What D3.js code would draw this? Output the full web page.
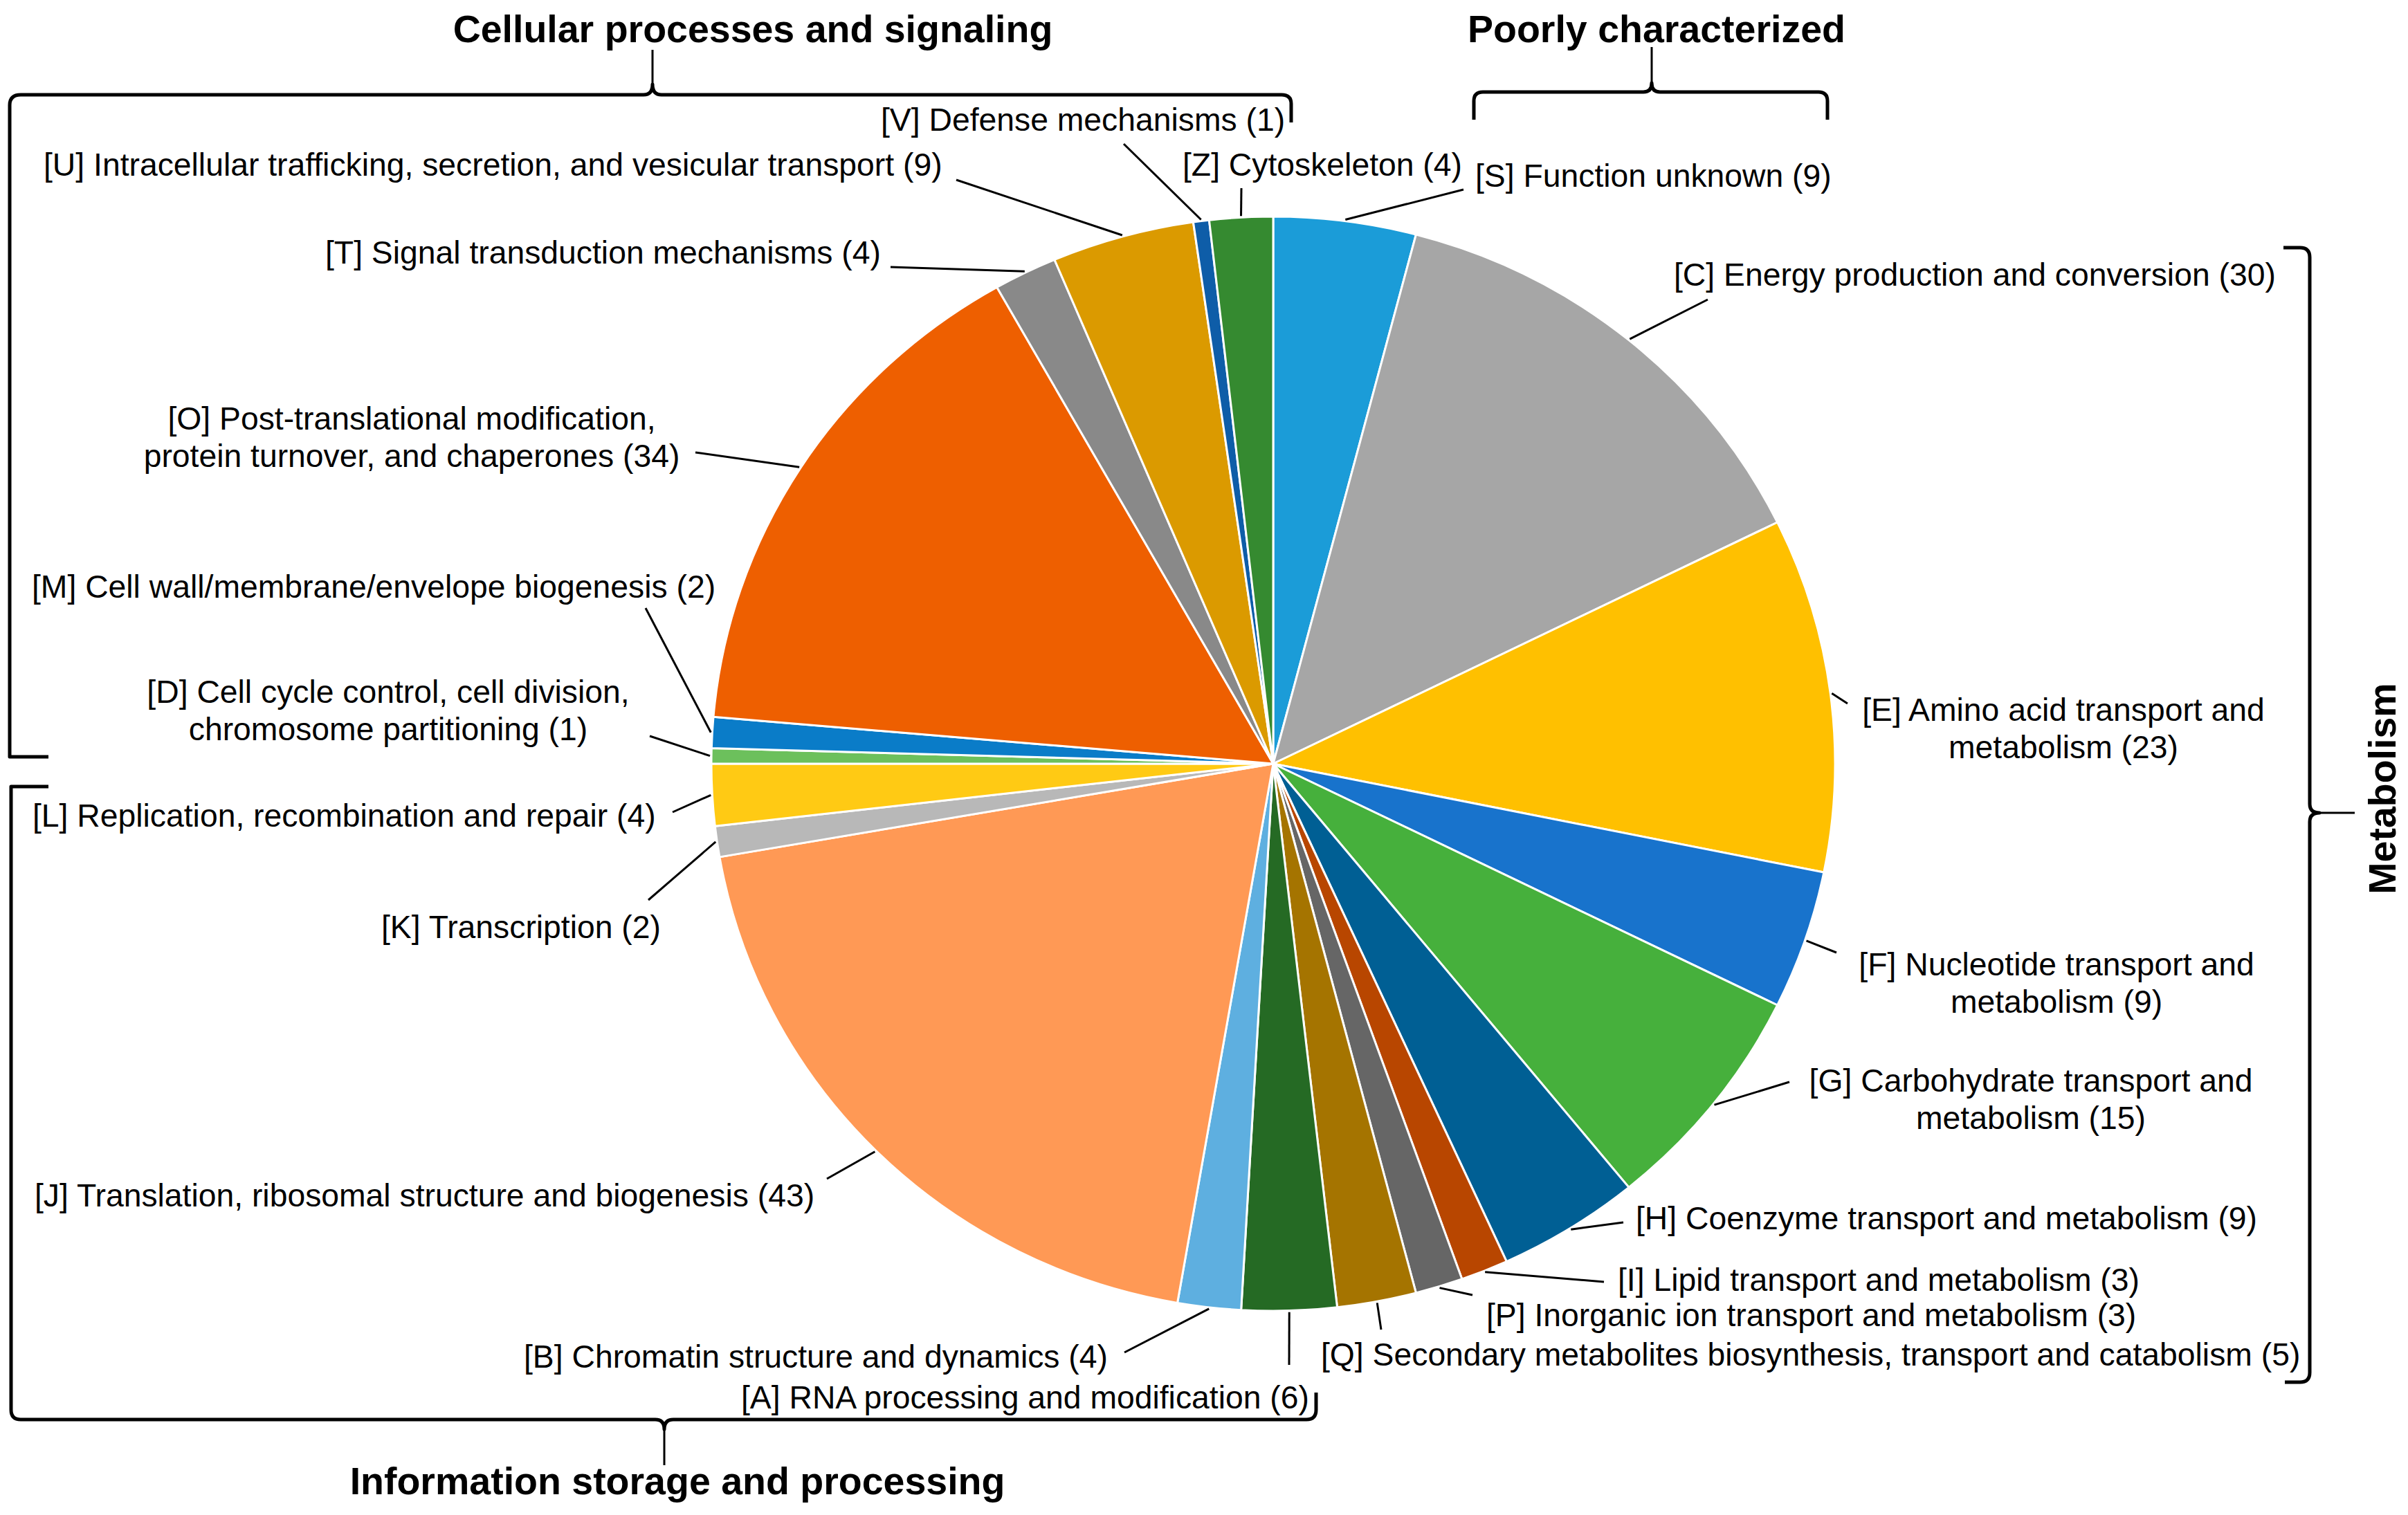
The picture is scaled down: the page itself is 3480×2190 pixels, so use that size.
<!DOCTYPE html>
<html>
<head>
<meta charset="utf-8">
<script src="https://cdn.jsdelivr.net/npm/d3@7"></script>
<style>
  html, body { margin: 0; padding: 0; background: #ffffff; }
  svg { display: block; }
  text { font-family: "Liberation Sans", Arial, Helvetica, sans-serif; fill: #000; }
</style>
</head>
<body>
<script>
// ---------------- DATA ----------------
const codes = ["S","C","E","F","G","H","I","P","Q","A","B","J","K","L","D","M","O","T","U","V","Z"];
const names = [
  "Function unknown",
  "Energy production and conversion",
  "Amino acid transport and\nmetabolism",
  "Nucleotide transport and\nmetabolism",
  "Carbohydrate transport and\nmetabolism",
  "Coenzyme transport and metabolism",
  "Lipid transport and metabolism",
  "Inorganic ion transport and metabolism",
  "Secondary metabolites biosynthesis, transport and catabolism",
  "RNA processing and modification",
  "Chromatin structure and dynamics",
  "Translation, ribosomal structure and biogenesis",
  "Transcription",
  "Replication, recombination and repair",
  "Cell cycle control, cell division,\nchromosome partitioning",
  "Cell wall/membrane/envelope biogenesis",
  "Post-translational modification,\nprotein turnover, and chaperones",
  "Signal transduction mechanisms",
  "Intracellular trafficking, secretion, and vesicular transport",
  "Defense mechanisms",
  "Cytoskeleton"
];
const counts = [9,30,23,9,15,9,3,3,5,6,4,43,2,4,1,2,34,4,9,1,4];
const groupTitles = ["Cellular processes and signaling","Poorly characterized","Metabolism","Information storage and processing"];

// ---------------- STYLE / LAYOUT ----------------
const colors = ["#1B9CD8","#A6A6A6","#FFC000","#1873CC","#46B03C","#005F94","#B84600","#666666","#A57400","#256A24",
                "#5EAFE0","#FF9955","#B8B8B8","#FFCA14","#6CC05C","#0A7CC8","#EE5F00","#898989","#DB9A00","#0E5DA8","#358A30"];
const W = 3480, H = 2190;
const cx = 1840, cy = 1104, R = 791, sx = 812 / 791;
const fontSize = 46.3, lineH = 54, titleSize = 55.5;

// label anchor positions (layout), keyed by code
const labelPos = {
  S:{x:2132,y:270,a:"start",end:[2115,274]},
  C:{x:2419,y:413,a:"start",end:[2468,433]},
  E:{x:2982,y:1042,a:"middle",end:[2670,1017]},
  F:{x:2972,y:1410,a:"middle",end:[2654,1377]},
  G:{x:2935,y:1578,a:"middle",end:[2586,1564]},
  H:{x:2364,y:1777,a:"start",end:[2346,1767]},
  I:{x:2338,y:1866,a:"start",end:[2318,1853]},
  P:{x:2148,y:1917,a:"start",end:[2128,1872]},
  Q:{x:1909,y:1974,a:"start",end:[1996,1922]},
  A:{x:1071,y:2036,a:"start",end:[1863,1973]},
  B:{x:757,y:1977,a:"start",end:[1625,1955]},
  J:{x:50,y:1744,a:"start",end:[1195,1704]},
  K:{x:551,y:1356,a:"start",end:[937,1301]},
  L:{x:47,y:1195,a:"start",end:[972,1174]},
  D:{x:561,y:1016,a:"middle",end:[939,1064]},
  M:{x:46,y:864,a:"start",end:[933,879]},
  O:{x:595,y:621,a:"middle",end:[1005,654]},
  T:{x:470,y:381,a:"start",end:[1287,386]},
  U:{x:63,y:254,a:"start",end:[1382,260]},
  V:{x:1273,y:189,a:"start",end:[1624,208]},
  Z:{x:1709,y:254,a:"start",end:[1794,272]}
};

const data = codes.map((c, i) => ({code: c, name: names[i], value: counts[i]}));
const color = d3.scaleOrdinal().domain(codes).range(colors);

const svg = d3.select("body").append("svg").attr("width", W).attr("height", H);
svg.append("rect").attr("width", W).attr("height", H).attr("fill", "#fff");

// ---------------- PIE ----------------
const pie = d3.pie().sort(null).value(d => d.value).startAngle(0).endAngle(2 * Math.PI);
const arc = d3.arc().innerRadius(0).outerRadius(R);
const arcs = pie(data);

const gPie = svg.append("g").attr("transform", `translate(${cx},${cy}) scale(${sx},1)`);
gPie.selectAll("path").data(arcs).join("path")
  .attr("d", arc)
  .attr("fill", d => color(d.data.code))
  .attr("stroke", "#fff")
  .attr("stroke-width", 3)
  .attr("vector-effect", "non-scaling-stroke")
  .attr("stroke-linejoin", "round");

// ---------------- LEADERS ----------------
function edgePoint(d) {
  const a = (d.startAngle + d.endAngle) / 2;
  return [cx + Math.sin(a) * (R + 2) * sx, cy - Math.cos(a) * (R + 2)];
}
svg.append("g").selectAll("line").data(arcs).join("line")
  .attr("x1", d => edgePoint(d)[0])
  .attr("y1", d => edgePoint(d)[1])
  .attr("x2", d => labelPos[d.data.code].end[0])
  .attr("y2", d => labelPos[d.data.code].end[1])
  .attr("stroke", "#000")
  .attr("stroke-width", 3);

// ---------------- LABELS ----------------
const gLab = svg.append("g").attr("font-size", fontSize);
arcs.forEach(d => {
  const p = labelPos[d.data.code];
  const full = `[${d.data.code}] ${d.data.name} (${d.data.value})`;
  const lines = full.split("\n");
  const t = gLab.append("text").attr("text-anchor", p.a);
  lines.forEach((ln, i) => {
    t.append("tspan").attr("x", p.x).attr("y", p.y + i * lineH).text(ln);
  });
});

// ---------------- BRACKETS ----------------
const gB = svg.append("g").attr("fill", "none").attr("stroke", "#000")
  .attr("stroke-linecap", "butt").attr("stroke-linejoin", "round");

// Cellular processes and signaling
gB.append("path").attr("stroke-width", 5)
  .attr("d", "M70,1094 L14,1094 L14,152 Q14,137 30,137 L930,137 Q943,137 943,122 Q943,137 956,137 L1852,137 Q1866,137 1866,150 L1866,177");
gB.append("path").attr("stroke-width", 3).attr("d", "M943,124 L943,72");

// Poorly characterized
gB.append("path").attr("stroke-width", 5)
  .attr("d", "M2130,173 L2130,146 Q2130,133 2143,133 L2375,133 Q2387,133 2387,120 Q2387,133 2399,133 L2628,133 Q2641,133 2641,146 L2641,173");
gB.append("path").attr("stroke-width", 3).attr("d", "M2387,122 L2387,68");

// Information storage and processing
gB.append("path").attr("stroke-width", 5)
  .attr("d", "M70,1137 L16,1137 L16,2038 Q16,2052 30,2052 L947,2052 Q960,2052 960,2066 Q960,2052 973,2052 L1888,2052 Q1902,2052 1902,2038 L1902,2013");
gB.append("path").attr("stroke-width", 3).attr("d", "M960,2064 L960,2118");

// Metabolism
gB.append("path").attr("stroke-width", 5)
  .attr("d", "M3300,358 L3324,358 Q3338,358 3338,372 L3338,1162 Q3338,1175 3352,1175 Q3338,1175 3338,1188 L3338,1984 Q3338,1998 3324,1998 L3302,1998");
gB.append("path").attr("stroke-width", 3).attr("d", "M3350,1175 L3403,1175");

// ---------------- GROUP TITLES ----------------
const gT = svg.append("g").attr("font-size", titleSize).attr("font-weight", "bold").attr("text-anchor", "middle");
gT.append("text").attr("x", 1088).attr("y", 61).text(groupTitles[0]);
gT.append("text").attr("x", 2394).attr("y", 61).text(groupTitles[1]);
gT.append("text").attr("transform", "translate(3462,1140) rotate(-90)").text(groupTitles[2]);
gT.append("text").attr("x", 979).attr("y", 2160).text(groupTitles[3]);
</script>
</body>
</html>
